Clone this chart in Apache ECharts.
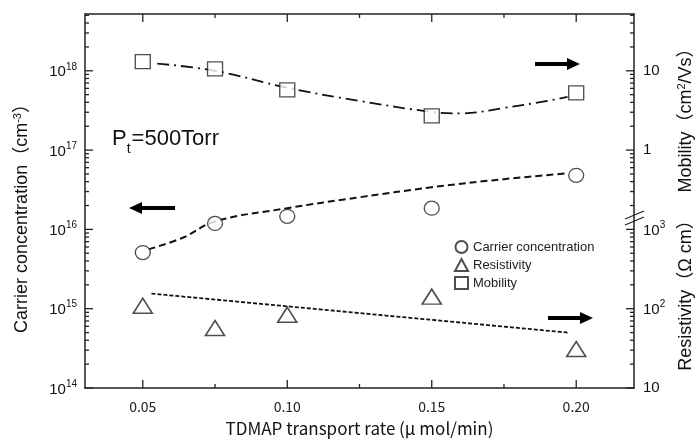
<!DOCTYPE html>
<html>
<head>
<meta charset="utf-8">
<script src="https://cdn.jsdelivr.net/npm/echarts@6/dist/echarts.min.js"></script>
<style>
  html, body { margin: 0; padding: 0; background: #fff; }
  #chart { width: 696px; height: 442px; }
</style>
</head>
<body>
<div id="chart"></div>
<script>
// measured points
const xRate = [0.05, 0.075, 0.10, 0.15, 0.20];
const carrier = [5.1e15, 1.19e16, 1.46e16, 1.85e16, 4.8e16];
const resistivity = [109, 57, 84, 142, 31];
const mobility = [13.0, 10.6, 5.75, 2.7, 5.26];

// guide curves
const carrierFitX = [0.052, 0.064, 0.075, 0.10, 0.125, 0.15, 0.175, 0.197];
const carrierFitY = [5.6e15, 7.9e15, 1.26e16, 1.85e16, 2.54e16, 3.4e16, 4.3e16, 5.1e16];
const resistFitX = [0.053, 0.197];
const resistFitY = [155, 50];
const mobilityFitX = [0.055, 0.075, 0.10, 0.125, 0.15, 0.16, 0.175, 0.19, 0.197];
const mobilityFitY = [12.3, 10.0, 6.1, 4.17, 3.03, 2.9, 3.4, 4.17, 4.69];

// ticks
const xMajor = [0.05, 0.10, 0.15, 0.20];
const xMinor = [0.075, 0.125, 0.175];
const yMajor = [1e14, 1e15, 1e16, 1e17, 1e18];

const X0 = 0.03, X1 = 0.22;
const DECADES = 4.716;
const Y0 = 1e14, Y1 = 1e14 * Math.pow(10, DECADES);
const GRID = { left: 85, right: 62, top: 14, bottom: 54 };
const W = 696, H = 442;
const FONT = 'Liberation Sans, Arial, Noto Sans CJK JP, sans-serif';
const JFONT = 'Noto Sans CJK JP, sans-serif';

// 2..9 in each decade, up to the top of the frame
let yMinor = [];
for (let d = 14; d <= 18; d++) {
  for (let m = 2; m <= 9; m++) {
    let v = m * Math.pow(10, d);
    if (v < Y1) yMinor.push(v);
  }
}

const pairs = (xs, ys) => xs.map((x, i) => [x, ys[i]]);
const supRich = {
  b: { fontSize: 15, fontFamily: FONT, color: '#111', verticalAlign: 'bottom' },
  s: { fontSize: 10, fontFamily: FONT, color: '#111', verticalAlign: 'bottom', padding: [0, 0, 8, 0] }
};
const axisLine = { show: true, lineStyle: { color: '#222', width: 1.5 } };

function decade(v) {
  let e = Math.log10(v);
  return Math.abs(e - Math.round(e)) < 0.01 ? Math.round(e) : null;
}
const leftLabel = v => {
  let e = decade(v);
  return e === null ? '' : '{b|10}{s|' + e + '}';
};
const rightLabel = v => {
  let e = decade(v);
  if (e === null || e > 5) return '';
  if (e === 1) return '{b|10}';
  if (e === 4) return '{b|1}';
  if (e === 5) return '{b|10}';
  return '{b|10}{s|' + e + '}';
};

const decorations = [
  // P_t label
  {
    type: 'text', left: 112, top: 128,
    style: {
      text: '{a|P}{t|t}{a|=500Torr}', fill: '#111',
      rich: {
        a: { fontSize: 22, fontFamily: FONT, verticalAlign: 'bottom' },
        t: { fontSize: 14, fontFamily: FONT, verticalAlign: 'bottom', padding: [0, 1, -6, 0] }
      }
    }
  },
  // axis titles
  {
    type: 'text', x: 22, y: 214, rotation: Math.PI / 2,
    style: {
      text: 'Carrier concentration\uff08cm{s|-3}\uff09', fontSize: 18, fontFamily: FONT, fill: '#111',
      align: 'center', verticalAlign: 'middle',
      rich: { s: { fontSize: 11, fontFamily: FONT, padding: [0, 0, 9, 0] } }
    }
  },
  {
    type: 'text', x: 686, y: 116, rotation: Math.PI / 2,
    style: {
      text: 'Mobility\uff08cm{s|2}/Vs\uff09', fontSize: 18, fontFamily: FONT, fill: '#111',
      align: 'center', verticalAlign: 'middle',
      rich: { s: { fontSize: 11, fontFamily: FONT, padding: [0, 0, 9, 0] } }
    }
  },
  {
    type: 'text', x: 686, y: 291, rotation: Math.PI / 2,
    style: {
      text: 'Resistivity\uff08\u03a9 cm\uff09', fontSize: 18, fontFamily: FONT, fill: '#111',
      align: 'center', verticalAlign: 'middle'
    }
  },
  // axis break marks
  { type: 'line', shape: { x1: 625, y1: 219, x2: 644, y2: 211 }, style: { stroke: '#222', lineWidth: 1.2 }, z: 10 },
  { type: 'line', shape: { x1: 625, y1: 225, x2: 644, y2: 217 }, style: { stroke: '#222', lineWidth: 1.2 }, z: 10 },
  // arrows
  { type: 'rect', shape: { x: 140, y: 206, width: 35, height: 4 }, style: { fill: '#000' } },
  { type: 'polygon', shape: { points: [[129, 208], [142, 202], [142, 214]] }, style: { fill: '#000' } },
  { type: 'rect', shape: { x: 535, y: 62, width: 34, height: 4 }, style: { fill: '#000' } },
  { type: 'polygon', shape: { points: [[580, 64], [567, 58], [567, 70]] }, style: { fill: '#000' } },
  { type: 'rect', shape: { x: 548, y: 316, width: 34, height: 4 }, style: { fill: '#000' } },
  { type: 'polygon', shape: { points: [[593, 318], [580, 312], [580, 324]] }, style: { fill: '#000' } }
];

const option = {
  animation: false,
  backgroundColor: '#fff',
  grid: { left: GRID.left, right: GRID.right, top: GRID.top, bottom: GRID.bottom, containLabel: false },
  xAxis: [
    {
      type: 'value', min: X0, max: X1, position: 'bottom',
      axisLine: axisLine, splitLine: { show: false }, axisTick: { show: false },
      axisLabel: {
        customValues: xMajor, margin: 12, fontSize: 14, fontFamily: JFONT, color: '#222',
        formatter: v => v.toFixed(2)
      },
      name: 'TDMAP transport rate (\u03bc mol/min)', nameLocation: 'middle', nameGap: 32,
      nameTextStyle: { fontSize: 17, fontFamily: JFONT, color: '#111' }
    },
    {
      type: 'value', min: X0, max: X1, position: 'top',
      axisLine: axisLine, splitLine: { show: false }, axisTick: { show: false }, axisLabel: { show: false }
    }
  ],
  yAxis: [
    {
      type: 'log', logBase: 10, min: Y0, max: Y1, position: 'left',
      axisLine: axisLine, splitLine: { show: false }, axisTick: { show: false },
      axisLabel: { margin: 8, formatter: leftLabel, rich: supRich, color: '#111' }
    },
    {
      type: 'log', logBase: 10, min: 10, max: 10 * Math.pow(10, DECADES), position: 'right',
      axisLine: axisLine, splitLine: { show: false }, axisTick: { show: false },
      axisLabel: { margin: 9, formatter: rightLabel, rich: supRich, color: '#111' }
    },
    {
      type: 'log', logBase: 10, min: 1e-3, max: 1e-3 * Math.pow(10, DECADES), position: 'right', show: false
    }
  ],
  legend: {
    orient: 'vertical', left: 449, top: 235, itemGap: 4, itemWidth: 13, itemHeight: 12,
    data: ['Carrier concentration', 'Resistivity', 'Mobility'],
    textStyle: { fontSize: 13, fontFamily: FONT, color: '#222' }
  },
  series: [
    {
      name: 'carrier fit', type: 'line', data: pairs(carrierFitX, carrierFitY), yAxisIndex: 0,
      smooth: 0.4, showSymbol: false, z: 2,
      lineStyle: { color: '#111', width: 2, type: [7, 4] }
    },
    {
      name: 'resist fit', type: 'line', data: pairs(resistFitX, resistFitY), yAxisIndex: 1,
      showSymbol: false, z: 2,
      lineStyle: { color: '#111', width: 1.8, type: [4, 2] }
    },
    {
      name: 'mobility fit', type: 'line', data: pairs(mobilityFitX, mobilityFitY), yAxisIndex: 2,
      smooth: 0.4, showSymbol: false, z: 2,
      lineStyle: { color: '#111', width: 1.8, type: [12, 5, 2, 5] }
    },
    {
      name: 'Carrier concentration', type: 'scatter', data: pairs(xRate, carrier), yAxisIndex: 0,
      symbol: 'circle', symbolSize: [15, 14], z: 4,
      itemStyle: { color: '#fff', borderColor: '#222', borderWidth: 1.3 }
    },
    {
      name: 'Resistivity', type: 'scatter', data: pairs(xRate, resistivity), yAxisIndex: 1,
      symbol: 'triangle', symbolSize: [19, 15], z: 4,
      itemStyle: { color: '#fff', borderColor: '#222', borderWidth: 1.6 }
    },
    {
      name: 'Mobility', type: 'scatter', data: pairs(xRate, mobility), yAxisIndex: 2,
      symbol: 'rect', symbolSize: [15, 14], z: 4,
      itemStyle: { color: '#fff', borderColor: '#222', borderWidth: 1.3 }
    }
  ],
  graphic: decorations
};

const chart = echarts.init(document.getElementById('chart'));
chart.setOption(option);

// tick marks on all four sides; positions come from the axes,
// with the grid's own linear / log mapping as a fallback
(function () {
  const plotW = W - GRID.left - GRID.right, plotH = H - GRID.top - GRID.bottom;
  function pick(r, i) {
    if (Array.isArray(r)) r = r[i];
    return (typeof r === 'number' && isFinite(r)) ? r : null;
  }
  const px = v => {
    let r = null;
    try { r = pick(chart.convertToPixel({ xAxisIndex: 0 }, v), 0); } catch (e) {}
    return r !== null ? r : GRID.left + (v - X0) / (X1 - X0) * plotW;
  };
  const py = v => {
    let r = null;
    try { r = pick(chart.convertToPixel({ yAxisIndex: 0 }, v), 1); } catch (e) {}
    return r !== null ? r : H - GRID.bottom - (Math.log10(v) - Math.log10(Y0)) / DECADES * plotH;
  };
  const tick = (x1, y1, x2, y2) => ({
    type: 'rect',
    shape: { x: Math.min(x1, x2) - (x1 === x2 ? 0.65 : 0), y: Math.min(y1, y2) - (y1 === y2 ? 0.65 : 0),
             width: x1 === x2 ? 1.3 : Math.abs(x2 - x1), height: y1 === y2 ? 1.3 : Math.abs(y2 - y1) },
    style: { fill: '#222' }, z: 5, silent: true
  });
  const yB = H - GRID.bottom, yT = GRID.top, xL = GRID.left, xR = W - GRID.right;
  let ticks = [];
  xMajor.forEach(v => { let x = px(v); ticks.push(tick(x, yB, x, yB - 8), tick(x, yT, x, yT + 8)); });
  xMinor.forEach(v => { let x = px(v); ticks.push(tick(x, yB, x, yB - 4), tick(x, yT, x, yT + 4)); });
  yMajor.forEach(v => { let y = py(v); ticks.push(tick(xL, y, xL + 8, y), tick(xR, y, xR - 8, y)); });
  yMinor.forEach(v => { let y = py(v); ticks.push(tick(xL, y, xL + 4, y), tick(xR, y, xR - 4, y)); });
  chart.setOption({ graphic: decorations.concat(ticks) });
})();
</script>
</body>
</html>
